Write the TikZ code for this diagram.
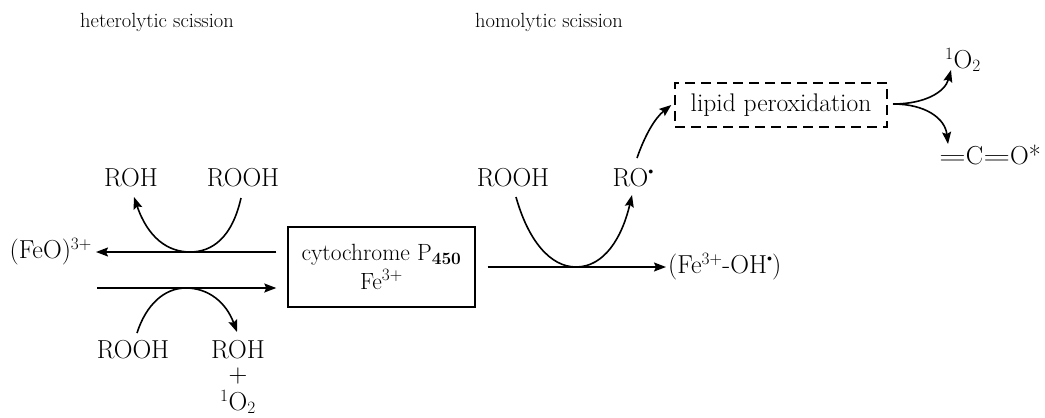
\documentclass[tikz,border=0pt]{standalone}
\usepackage{graphicx}
\usetikzlibrary{arrows.meta}
\newcommand{\raddot}{\raisebox{1.1ex}{\scalebox{0.4}{$\bullet$}}}
\begin{document}
\begin{tikzpicture}[x=1pt,y=-1pt,
  lbl/.style={font=\fontsize{26}{30}\selectfont, inner sep=0pt},
  head/.style={font=\fontsize{20.5}{24}\selectfont, inner sep=0pt},
  arr/.style={line width=1.6pt, -{Stealth[length=12pt,width=9pt,inset=2pt]}},
  cbox/.style={draw, line width=1.4pt, minimum width=187pt, minimum height=80pt, align=center, font=\fontsize{23.5}{29}\selectfont},
  dbox/.style={draw, line width=1.4pt, dash pattern=on 10pt off 6pt, minimum width=212pt, minimum height=44pt, font=\fontsize{25.5}{30}\selectfont}]
\useasboundingbox (0,0) rectangle (1045,418);
% headings
\node[head] (het) at (157,22) {heterolytic scission};
\node[head] (hom) at (549,22) {homolytic scission};
% central box
\node[cbox] (cyt) at (381.5,267) {cytochrome P$_{\mathbf{450}}$\\[0pt] Fe$^{3+}$};
% left side
\node[lbl, anchor=east] (feo) at (92,252) {(FeO)$^{3+}$};
\node[lbl] (roh1) at (131,178) {ROH};
\node[lbl] (rooh1) at (243,178) {ROOH};
\node[lbl] (rooh2) at (133,350) {ROOH};
\node[lbl] (roh2) at (238,350) {ROH};
\node[lbl] (plus) at (238,376) {+};
\node[lbl] (so1) at (238,402) {$^{1}$O$_{2}$};
% right side
\node[lbl] (rooh3) at (513,178) {ROOH};
\node[lbl] (ro) at (633,178) {RO\raddot};
\node[lbl, anchor=west] (feoh) at (668,267) {(Fe$^{3+}$-OH\raddot)};
\node[dbox] (lip) at (781,105) {lipid peroxidation};
\node[lbl] (so2) at (963,60) {$^{1}$O$_{2}$};
\node[lbl] (co) at (990,155) {\scalebox{1.5}[1]{$=$}C\scalebox{1.5}[1]{$=$}O*};
% coordinates
\coordinate (a1) at (241,198);
\coordinate (t1) at (190,252);
\coordinate (b1) at (134,197);
\coordinate (a2) at (137,333);
\coordinate (t2) at (186,288);
\coordinate (b2) at (237,332);
\coordinate (a3) at (516,197);
\coordinate (t3) at (576,267);
\coordinate (b3) at (632,195);
\coordinate (r1) at (637,158);
\coordinate (f0) at (893,104);
% horizontal arrows
\draw[arr] ([xshift=-11pt]cyt.west |- t1) -- ([xshift=4pt]feo.east |- t1);
\draw[arr] ([xshift=5pt]feo.east |- t2) -- ([xshift=-11pt]cyt.west |- t2);
\draw[arr] ([xshift=12pt]cyt.east |- t3) -- ([xshift=-2pt]feoh.west |- t3);
% top-left U
\draw[arr] (a1) .. controls (232,238) and (212,252) .. (t1) .. controls (168,252) and (148,238) .. (b1);
% bottom-left inverted U
\draw[arr] (a2) .. controls (146,305) and (164,288) .. (t2) .. controls (208,288) and (226,302) .. (b2);
% right U
\draw[arr] (a3) .. controls (528,240) and (550,267) .. (t3) .. controls (604,267) and (622,238) .. (b3);
% RO to lipid
\draw[arr] (r1) .. controls (645,135) and (655,118) .. ([xshift=-3pt]lip.west);
% fork
\draw[arr] (f0) .. controls (925,104) and (945,92) .. (951,70);
\draw[arr] (f0) .. controls (925,104) and (945,118) .. (948,144);
\end{tikzpicture}
\end{document}
